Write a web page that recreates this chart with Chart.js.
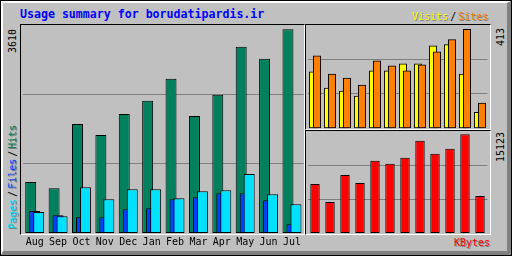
<!DOCTYPE html>
<html>
<head>
<meta charset="utf-8">
<script src="https://cdn.jsdelivr.net/npm/chart.js@4.4.1/dist/chart.umd.min.js"></script>
<style>
  body { margin: 0; background: #fff; }
  #box { position: relative; width: 512px; height: 256px; background: #c0c0c0; overflow: hidden;
         font-family: 'DejaVu Sans Mono', monospace; font-size: 10px; line-height: 10px; }
  .edge { position: absolute; left: 0; top: 0; width: 512px; height: 256px; box-sizing: border-box; border: 1px solid #000; }
  .bevel { position: absolute; left: 1px; top: 1px; width: 510px; height: 254px; box-sizing: border-box;
           border-style: solid; border-width: 2px 4px 4px 2px; border-color: #fff #808080 #808080 #fff; }
  .panel { position: absolute; box-sizing: border-box; border-style: solid; border-width: 1px;
           border-color: #000 #fff #fff #000; }
  canvas { position: absolute; }
  .txt { position: absolute; white-space: nowrap; }
  .up { transform-origin: 0 0; transform: rotate(-90deg); }
  .shadow { text-shadow: 1px 1px 0 #808080; }
  .up.shadow { text-shadow: -1px 1px 0 #808080; }
  .sl { margin: 0 2px; color: #000; text-shadow: none; }
</style>
</head>
<body>
<div id="box">
  <div class="edge"></div>
  <div class="bevel"></div>
  <div class="panel" style="left:20px;top:24px;width:285px;height:211px"></div>
  <div class="panel" style="left:305px;top:24px;width:186px;height:106px"></div>
  <div class="panel" style="left:305px;top:130px;width:186px;height:105px"></div>

  <div class="txt" id="title" style="left:20px;top:9px;font-weight:bold;font-size:11.6px;line-height:11.6px;color:#0000ff"></div>
  <div class="txt shadow" style="left:412px;top:12px"><span style="color:#ffff00">Visits</span><span class="sl">/</span><span style="color:#ff8000">Sites</span></div>
  <div class="txt up shadow" style="left:8px;top:229px"><span style="color:#00e0ff">Pages</span><span class="sl">/</span><span style="color:#0040ff">Files</span><span class="sl">/</span><span style="color:#00805c">Hits</span></div>
  <div class="txt shadow" style="left:454px;top:238px;color:#ff0000">KBytes</div>
  <div class="txt up" id="lblHits" style="left:8px;top:52.5px;color:#000"></div>
  <div class="txt up" id="lblSites" style="left:495.5px;top:45.5px;color:#000"></div>
  <div class="txt up" id="lblKbytes" style="left:495.5px;top:161.5px;color:#000"></div>

  <canvas id="main" width="283" height="226" style="left:21px;top:25px"></canvas>
  <canvas id="vs" width="184" height="104" style="left:306px;top:25px"></canvas>
  <canvas id="kb" width="184" height="103" style="left:306px;top:131px"></canvas>
</div>
<script>
const title = 'Usage summary for borudatipardis.ir';
const months = ['Aug', 'Sep', 'Oct', 'Nov', 'Dec', 'Jan', 'Feb', 'Mar', 'Apr', 'May', 'Jun', 'Jul'];
const hits   = [902, 795, 1933, 1737, 2111, 2342, 2733, 2075, 2449, 3302, 3089, 3610];
const files  = [391, 315, 279, 279, 421, 439, 599, 635, 706, 706, 582, 155];
const pages  = [373, 297, 813, 599, 777, 777, 617, 742, 759, 1044, 688, 510];
const visits = [235, 167, 155, 134, 239, 239, 268, 268, 344, 349, 226, 66];
const sites  = [302, 226, 209, 180, 281, 260, 239, 264, 319, 370, 413, 104];
const kbytes = [7515, 4737, 8904, 7669, 11064, 10601, 11527, 14150, 12144, 12916, 15123, 5663];
// max labels printed beside the panels
const hitsMax = 3610;
const sitesMax = 413;
const kbytesMax = 15123;

document.getElementById('title').textContent = title;
document.getElementById('lblHits').textContent = hitsMax;
document.getElementById('lblSites').textContent = sitesMax;
document.getElementById('lblKbytes').textContent = kbytesMax;

Chart.defaults.font.family = "'DejaVu Sans Mono', monospace";
Chart.defaults.animation = false;

// later datasets go on top, left to right
const drawInOrder = {
    id: 'drawInOrder',
    beforeDatasetsDraw(chart) {
        chart.data.datasets.forEach((ds, i) => chart.getDatasetMeta(i).controller.draw());
        return false;
    }
};

function barSet(label, data, color) {
    return { label, data, backgroundColor: color, borderColor: '#000', borderWidth: 1, borderSkipped: false };
}

function yAxis(max) {
    return {
        min: 0, max,
        afterBuildTicks: axis => { axis.ticks = [1, 2].map(k => ({ value: axis.max * k / 3 })); },
        ticks: { display: false },
        border: { display: false },
        grid: { color: '#808080', drawTicks: false }
    };
}

const hiddenX = { display: false };
const common = {
    responsive: false,
    animation: false,
    plugins: { legend: { display: false }, tooltip: { enabled: false } }
};

new Chart(document.getElementById('main'), {
    type: 'bar',
    data: {
        labels: months,
        datasets: [
            barSet('Hits', hits, '#00805c'),
            barSet('Files', files, '#0040ff'),
            barSet('Pages', pages, '#00e0ff')
        ]
    },
    options: {
        ...common,
        layout: { padding: { left: 2 } },
        datasets: { bar: { categoryPercentage: 0.512, barPercentage: 2.75 } },
        scales: {
            x: {
                grid: { display: false, drawTicks: false },
                border: { display: false },
                ticks: { color: '#000', font: { size: 10 }, padding: 3, autoSkip: false, maxRotation: 0 }
            },
            y: yAxis(hitsMax * 208 / 203.7)
        }
    },
    plugins: [drawInOrder]
});

new Chart(document.getElementById('vs'), {
    type: 'bar',
    data: {
        labels: months,
        datasets: [
            barSet('Visits', visits, '#ffff00'),
            barSet('Sites', sites, '#ff8000')
        ]
    },
    options: {
        ...common,
        layout: { padding: { left: 1.5, right: 2.5, bottom: 1 } },
        datasets: { bar: { categoryPercentage: 8 / 15, barPercentage: 1.875 } },
        scales: { x: hiddenX, y: yAxis(sitesMax * 103 / 98.7) }
    },
    plugins: [drawInOrder]
});

new Chart(document.getElementById('kb'), {
    type: 'bar',
    data: {
        labels: months,
        datasets: [barSet('KBytes', kbytes, '#ff0000')]
    },
    options: {
        ...common,
        layout: { padding: { left: 1.5, right: 2.5, bottom: 1 } },
        datasets: { bar: { categoryPercentage: 1, barPercentage: 0.627 } },
        scales: { x: hiddenX, y: yAxis(kbytesMax * 102 / 98.7) }
    }
});
</script>
</body>
</html>
